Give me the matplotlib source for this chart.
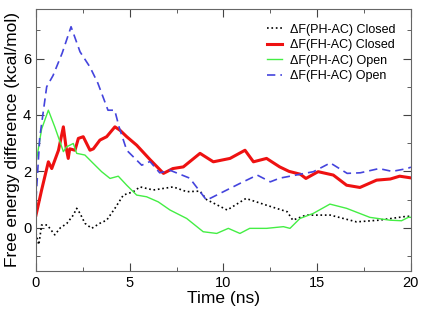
import matplotlib
matplotlib.use('Agg')
import matplotlib.pyplot as plt
from matplotlib.ticker import MultipleLocator

plt.rcParams['font.family'] = ['Liberation Sans', 'DejaVu Sans']

# dF(PH-AC) Closed (black dotted)
t_ph_closed = [0, 0.15, 0.3, 0.6, 1.0, 1.3, 1.64, 1.99, 2.17, 2.35, 2.61, 2.97, 3.41, 3.77, 4.21,
               4.66, 5.19, 5.55, 6.26, 7.32, 8.04, 8.75, 9.1, 10.2, 11.2, 12.3, 13.4, 13.7,
               14.4, 15.7, 17.1, 18.3, 19.8, 20]
v_ph_closed = [-0.2, -0.6, 0.1, 0.1, -0.25, 0.0, 0.15, 0.45, 0.69, 0.51, 0.16, -0.02, 0.16, 0.27, 0.69,
               1.16, 1.28, 1.45, 1.34, 1.45, 1.28, 1.3, 1.0, 0.63, 1.04, 0.8, 0.57, 0.27,
               0.45, 0.45, 0.21, 0.27, 0.41, 0.4]

# dF(FH-AC) Closed (red)
t_fh_closed = [0, 0.3, 0.66, 0.84, 1.2, 1.46, 1.6, 1.72, 1.8, 2.08, 2.26, 2.52, 2.88, 3.06, 3.41,
               3.77, 4.21, 4.48, 4.84, 5.37, 6.08, 6.8, 7.3, 7.86, 8.75, 9.46, 10.35, 11.15,
               11.6, 12.3, 13.0, 13.5, 14.1, 14.4, 15.05, 15.86, 16.57, 17.28, 18.17, 18.9,
               19.4, 20]
v_fh_closed = [0.45, 1.34, 2.34, 2.1, 2.75, 3.58, 2.87, 2.46, 2.8, 2.75, 3.17, 3.23, 2.75, 2.8, 3.11,
               3.23, 3.58, 3.46, 3.23, 2.93, 2.42, 1.93, 2.1, 2.16, 2.64, 2.34, 2.46, 2.75,
               2.34, 2.46, 2.16, 2.0, 1.9, 1.75, 1.99, 1.87, 1.51, 1.43, 1.69, 1.73,
               1.83, 1.77]

# dF(PH-AC) Open (green)
t_ph_open = [0, 0.3, 0.66, 1.0, 1.28, 1.46, 1.63, 1.99, 2.17, 2.61, 3.06, 3.5, 3.95, 4.39, 4.84,
             5.37, 5.9, 6.52, 7.15, 8.04, 8.92, 9.64, 10.26, 10.88, 11.4, 12.3, 13.2, 13.55,
             14.08, 14.79, 15.68, 16.57, 17.81, 18.88, 19.5, 19.86, 20]
v_ph_open = [2.3, 3.5, 4.17, 3.58, 3.05, 2.7, 2.87, 2.99, 2.64, 2.58, 2.28, 1.99, 1.75, 1.83, 1.51,
             1.16, 1.1, 0.92, 0.63, 0.33, -0.14, -0.2, -0.02, -0.2, -0.02, -0.02, 0.04, -0.02,
             0.33, 0.51, 0.84, 0.69, 0.37, 0.27, 0.25, 0.37, 0.37]

# dF(FH-AC) Open (blue dashed)
t_fh_open = [0, 0.2, 0.57, 0.91, 1.4, 1.87, 2.35, 2.88, 3.3, 3.84, 4.2, 4.43, 4.84, 5.64, 6.08,
             6.6, 7.15, 8.2, 9.1, 10.0, 10.9, 11.8, 12.5, 13.0, 13.4, 14.8, 15.7, 16.6, 17.3,
             18.3, 19.0, 19.8, 20]
v_fh_open = [1.0, 3.2, 5.0, 5.4, 6.2, 7.13, 6.24, 5.7, 5.13, 4.17, 4.17, 3.58, 2.75, 2.22, 2.35,
             1.95, 2.04, 1.76, 0.98, 1.28, 1.58, 1.87, 1.63, 1.76, 1.81, 1.99, 2.3, 1.93, 1.95,
             2.1, 2.0, 2.1, 2.15]

fig = plt.figure(figsize=(4.21, 3.10), dpi=100)
ax = fig.add_axes([0.0855, 0.126, 0.8905, 0.846])

ax.plot(t_ph_closed, v_ph_closed, color='black', linestyle=':', linewidth=1.2, label='ΔF(PH-AC) Closed')
ax.plot(t_fh_closed, v_fh_closed, color='#ee1111', linewidth=2.2, label='ΔF(FH-AC) Closed')
ax.plot(t_ph_open, v_ph_open, color='#44ee44', linewidth=1.0, label='ΔF(PH-AC) Open')
ax.plot(t_fh_open, v_fh_open, color='#4444dd', linestyle='--', linewidth=1.2, dashes=(5, 3), label='ΔF(FH-AC) Open')

ax.set_xlim(0, 20)
ax.set_ylim(-1.53, 7.77)
ax.xaxis.set_major_locator(MultipleLocator(5))
ax.xaxis.set_minor_locator(MultipleLocator(2.5))
ax.yaxis.set_major_locator(MultipleLocator(2))
ax.yaxis.set_minor_locator(MultipleLocator(1))
ax.tick_params(which='both', direction='in', top=True, right=True, labelsize=10.5, colors='#444444')
ax.tick_params(which='major', length=6)
ax.tick_params(which='minor', length=3)
for lbl in ax.get_xticklabels() + ax.get_yticklabels():
    lbl.set_color('black')
for s in ax.spines.values():
    s.set_color('#666666')

ax.set_xlabel('Time (ns)', fontsize=12.5, labelpad=1)
ax.set_ylabel('Free energy difference (kcal/mol)', fontsize=12.5, labelpad=2)

ax.legend(loc='upper right', frameon=False, fontsize=9, handlelength=1.2, handletextpad=0.64,
          labelspacing=0.28, borderpad=0.4, borderaxespad=0.8)

fig.savefig('out.png', dpi=100)
